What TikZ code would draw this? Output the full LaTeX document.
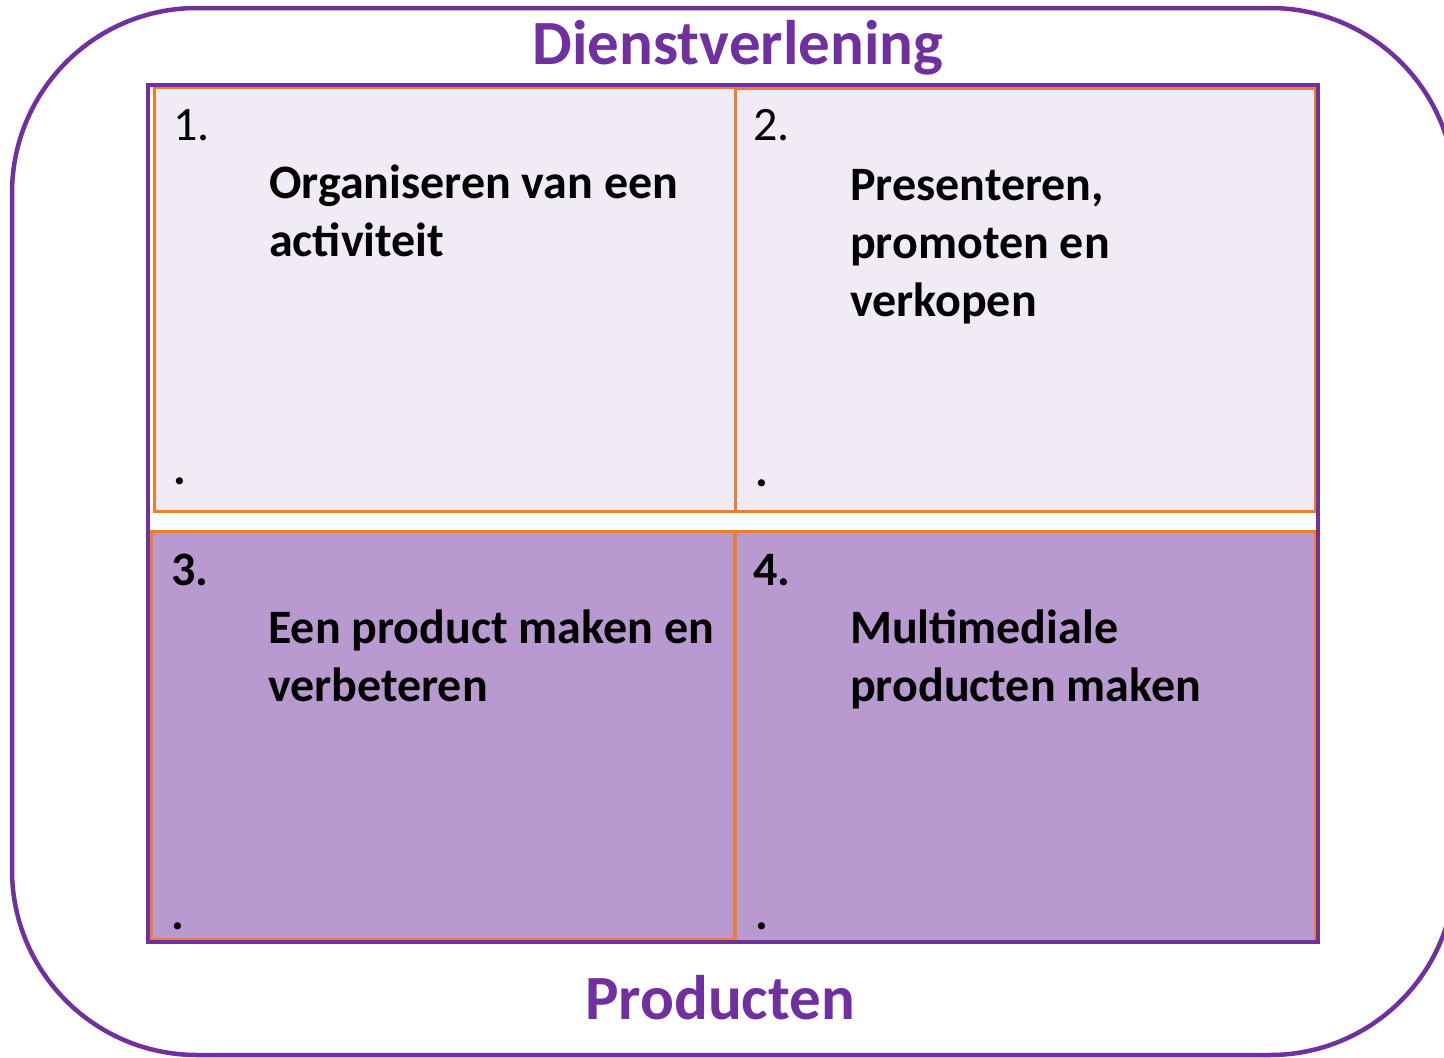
\documentclass[tikz,border=0pt]{standalone}
\usepackage{fontspec}
\setmainfont{Carlito}
\usepackage{tikz}

\definecolor{paars}{HTML}{7030A0}
\definecolor{oranje}{HTML}{ED7D31}
\definecolor{lichtpaars}{HTML}{F1EBF6}
\definecolor{midpaars}{HTML}{B899D0}

\begin{document}
\begin{tikzpicture}[x=1pt,y=-1pt]

  \clip (0,0) rectangle (1444,1058);

  % node styles
  \tikzstyle{Cell}=[
  anchor=north west,
  shape=rectangle,
  draw=oranje,
  line width=2.5pt,
  inner sep=0pt]

  \tikzstyle{Num}=[anchor=base west,inner sep=0pt,font=\fontsize{48}{58}\selectfont]
  \tikzstyle{Body}=[anchor=base west,inner sep=0pt,align=left,font=\fontsize{48}{58}\selectfont\bfseries]
  \tikzstyle{Title}=[anchor=base,inner sep=0pt,text=paars,font=\fontsize{63}{70}\selectfont\bfseries]

  % outer frame
  \draw[paars,line width=4.5pt,rounded corners=185pt] (12,8) rectangle (1455,1055);

  % cells
  \node[Cell,fill=lichtpaars,minimum width=581,minimum height=424] (C1) at (153,86) {};
  \node[Cell,fill=lichtpaars,minimum width=580,minimum height=423] (C2) at (734,87) {};
  \node[Cell,fill=midpaars,minimum width=583,minimum height=408] (C3) at (150,530) {};
  \node[Cell,fill=midpaars,minimum width=580,minimum height=410] (C4) at (734,530) {};

  \draw[paars,line width=4pt] (148,85) rectangle (1318,942);

  % titles
  \node[Title] (D) at (738,64) {Dienstverlening};
  \node[Title] (P) at (720,1019) {Producten};

  % numbers
  \node[Num] (N1) at (173,140) {1.};
  \node[Num] (N2) at (753,140) {2.};
  \node[Num,font=\fontsize{48}{58}\selectfont\bfseries] (N3) at (171,585) {3.};
  \node[Num,font=\fontsize{48}{58}\selectfont\bfseries] (N4) at (753,585) {4.};

  % texts (base = last line)
  \node[Body] (T1) at (269,256) {Organiseren van een\\activiteit};
  \node[Body] (T2) at (850,316) {Presenteren,\\promoten en\\verkopen};
  \node[Body] (T3) at (268,701) {Een product maken en\\verbeteren};
  \node[Body] (T4) at (850,701) {Multimediale\\producten maken};

  % dots
  \node[Num,font=\fontsize{48}{58}\selectfont\bfseries] (P1) at (173,484) {.};
  \node[Num,font=\fontsize{48}{58}\selectfont\bfseries] (P2) at (755,486) {.};
  \node[Num,font=\fontsize{48}{58}\selectfont\bfseries] (P3) at (171,929) {.};
  \node[Num,font=\fontsize{48}{58}\selectfont\bfseries] (P4) at (755,929) {.};

\end{tikzpicture}
\end{document}
